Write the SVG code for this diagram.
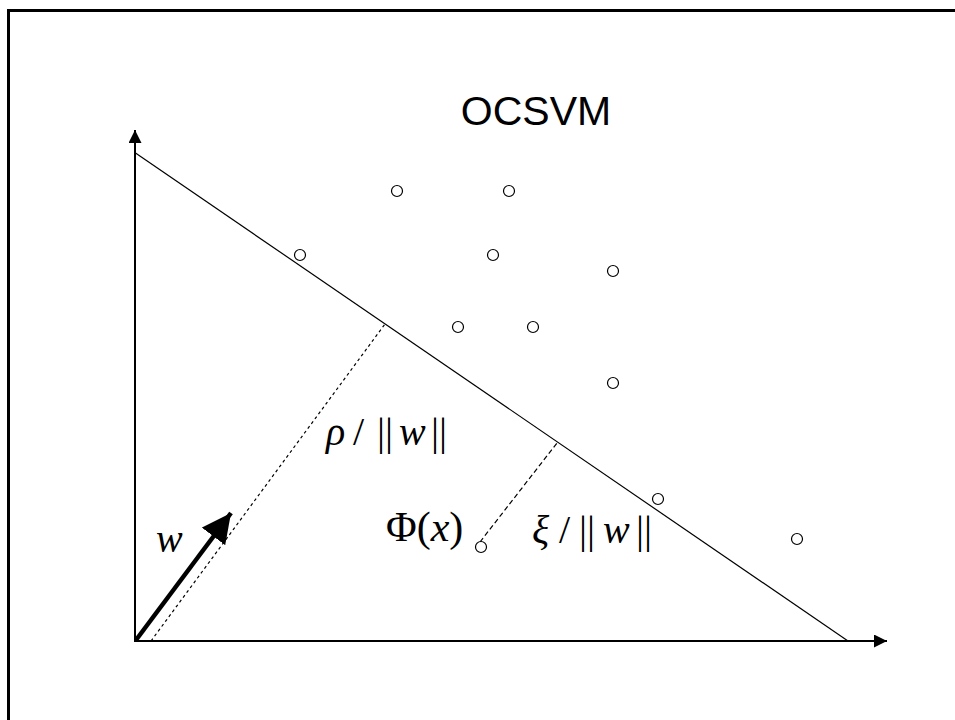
<svg xmlns="http://www.w3.org/2000/svg" width="955" height="720" viewBox="0 0 955 720">
<style>
.frame{fill:none;stroke:#000;stroke-width:3}
.axis{stroke:#000;stroke-width:2;fill:none}
.thin{stroke:#000;stroke-width:1.2;fill:none}
.pt{fill:#fff;stroke:#000;stroke-width:1.2}
.title{font-family:"Liberation Sans",Arial,sans-serif;font-size:41px;fill:#000}
.math{font-family:"Liberation Serif","Times New Roman",serif;font-size:40px;fill:#000}
.it{font-style:italic}
</style>
<defs>
<marker id="ah" viewBox="0 0 10 10" refX="10" refY="5" markerWidth="6.5" markerHeight="6.5" markerUnits="strokeWidth" orient="auto"><path d="M0,0 L10,5 L0,10 z" fill="#000"/></marker>
</defs>
<rect class="frame" x="8.5" y="10.5" width="960" height="720"/>
<g id="title"><text class="title" x="536" y="125" text-anchor="middle">OCSVM</text></g>
<g id="connectors">
<line class="axis" x1="135" y1="642" x2="135" y2="130" marker-end="url(#ah)"/>
<line class="axis" x1="134" y1="641" x2="887" y2="641" marker-end="url(#ah)"/>
<line class="thin" x1="135.5" y1="153" x2="848" y2="641"/>
<line class="thin" x1="151" y1="641" x2="385" y2="324" stroke-dasharray="3,3"/>
<line class="thin" x1="480" y1="542" x2="557" y2="443" stroke-dasharray="5,3"/>
<line x1="136" y1="640" x2="231" y2="513" stroke="#000" stroke-width="4.5" marker-end="url(#ah)" id="warrow"/>
</g>
<g id="points">
<circle class="pt" cx="300" cy="255" r="5.5"/>
<circle class="pt" cx="397" cy="191" r="5.5"/>
<circle class="pt" cx="509" cy="191" r="5.5"/>
<circle class="pt" cx="493" cy="255" r="5.5"/>
<circle class="pt" cx="613" cy="271" r="5.5"/>
<circle class="pt" cx="458" cy="327" r="5.5"/>
<circle class="pt" cx="533" cy="327" r="5.5"/>
<circle class="pt" cx="613" cy="383" r="5.5"/>
<circle class="pt" cx="658" cy="499" r="5.5"/>
<circle class="pt" cx="797" cy="539" r="5.5"/>
<circle class="pt" cx="481" cy="547" r="5.5"/>
</g>
<g id="labels">
<text class="math it" x="156" y="552">w</text>
<text class="math" y="445"><tspan class="it" x="326">ρ</tspan><tspan x="353">/</tspan><tspan x="377">||</tspan><tspan class="it" x="399">w</tspan><tspan x="431">||</tspan></text>
<text class="math" x="386" y="541" style="font-size:42px">Φ(<tspan class="it">x</tspan>)</text>
<text class="math" y="543"><tspan class="it" x="532">ξ</tspan><tspan x="559">/</tspan><tspan x="579">||</tspan><tspan class="it" x="603">w</tspan><tspan x="636">||</tspan></text>
</g>
</svg>
